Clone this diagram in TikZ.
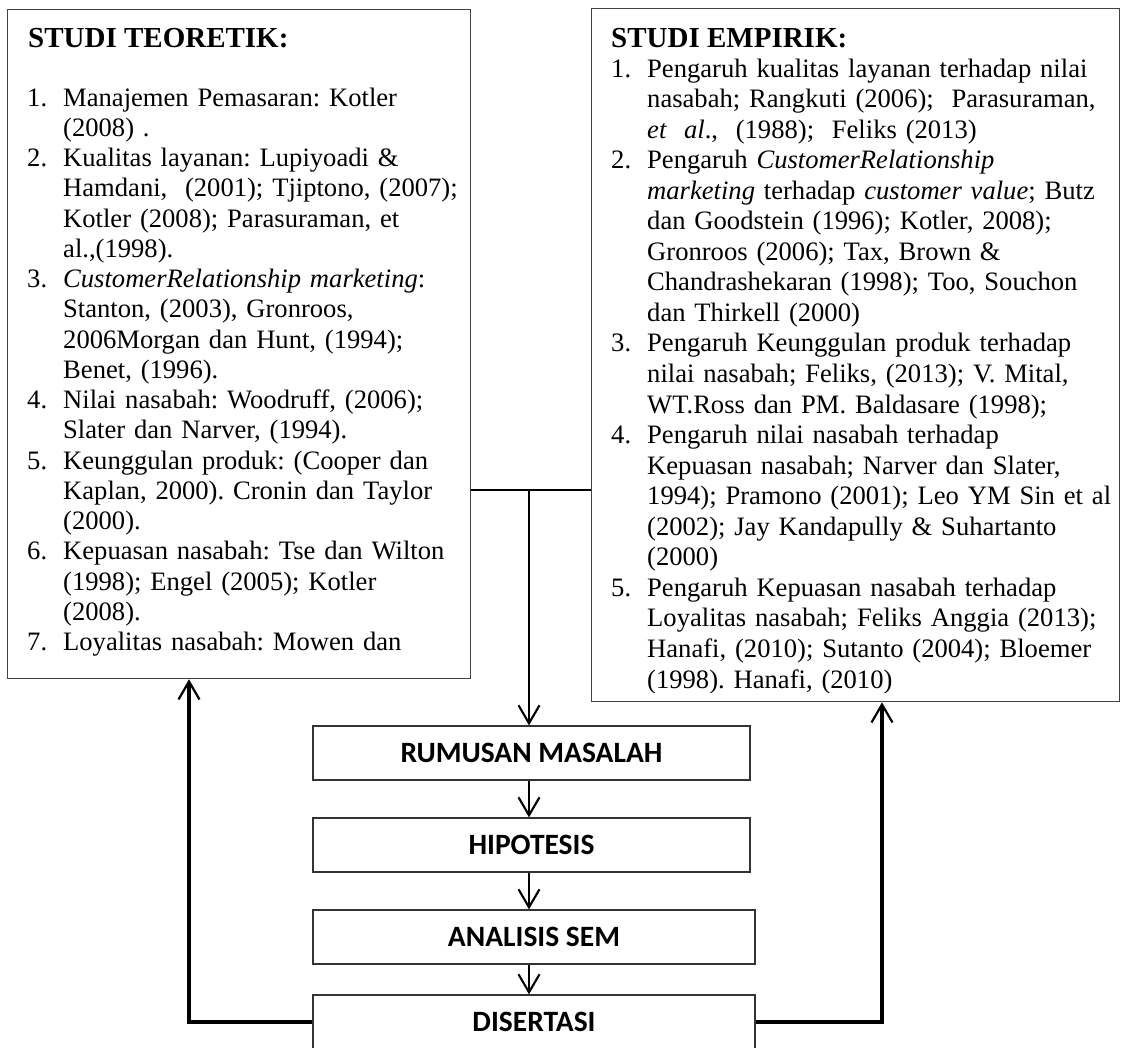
\documentclass[tikz,border=0pt]{standalone}
\usepackage{fontspec}
\setmainfont{Liberation Serif}
\newfontfamily\calib{Carlito}
\usetikzlibrary{arrows.meta}
\newcommand\lnum[1]{\makebox[36pt][l]{#1}}
\newcommand\lind{\hspace*{36pt}}
\frenchspacing
\begin{document}
\begin{tikzpicture}[x=1pt,y=-1pt,
  textbox/.style={draw=black!75, line width=1.3pt, inner sep=0pt, fill=white},
  flowbox/.style={draw=black!80, line width=1.3pt, inner sep=0pt, fill=white,
     font=\calib\bfseries\fontsize{29.5}{34}\selectfont},
  body/.style={inner sep=0pt, text width=560pt, align=left,
     font=\frenchspacing\fontsize{26.6}{30.25}\selectfont},
  ttl/.style={inner sep=0pt, font=\bfseries\fontsize{29}{34}\selectfont},
  arr/.style={line width=2.1pt, -{Straight Barb[length=18pt,width=21pt,line width=2.1pt]}},
  fb/.style={line width=3.2pt, -{Straight Barb[length=18pt,width=21pt,line width=2.2pt]}},
  link/.style={line width=2.6pt}]
\useasboundingbox (0,0) rectangle (1127,1047);
\fill[white] (0,0) rectangle (1127,1047);

% text boxes
\node[textbox, anchor=north west, minimum width=463pt, minimum height=669pt] (lbox) at (7,9) {};
\node[textbox, anchor=north west, minimum width=528pt, minimum height=693pt] (rbox) at (591,8) {};

\node[ttl, anchor=base west] (ltitle) at (28,47) {STUDI TEORETIK:};
\node[body, anchor=base west] (ltext) at (27,106) {%
\lnum{1.}Manajemen Pemasaran: Kotler\\
\lind(2008) .\\
\lnum{2.}Kualitas layanan: Lupiyoadi \&\\
\lind Hamdani,\ \ (2001); Tjiptono, (2007);\\
\lind Kotler (2008); Parasuraman, et\\
\lind al.,(1998).\\
\lnum{3.}\textit{CustomerRelationship marketing}:\\
\lind Stanton, (2003), Gronroos,\\
\lind 2006Morgan dan Hunt, (1994);\\
\lind Benet, (1996).\\
\lnum{4.}Nilai nasabah: Woodruff, (2006);\\
\lind Slater dan Narver, (1994).\\
\lnum{5.}Keunggulan produk: (Cooper dan\\
\lind Kaplan, 2000). Cronin dan Taylor\\
\lind(2000).\\
\lnum{6.}Kepuasan nasabah: Tse dan Wilton\\
\lind(1998); Engel (2005); Kotler\\
\lind(2008).\\
\lnum{7.}Loyalitas nasabah: Mowen dan}; 

\node[ttl, anchor=base west] (rtitle) at (611,47) {STUDI EMPIRIK:};
\begin{scope}
\clip (591,8) rectangle (1119,692);
\node[body, anchor=base west, font=\frenchspacing\fontsize{26.6}{30.55}\selectfont] (rtext) at (611,77) {%
\lnum{1.}Pengaruh kualitas layanan terhadap nilai\\
\lind nasabah; Rangkuti (2006);\ \ Parasuraman,\\
\lind\textit{et\ \ al}.,\ \ (1988);\ \ Feliks (2013)\\
\lnum{2.}Pengaruh \textit{CustomerRelationship}\\
\lind\textit{marketing} terhadap \textit{customer value}; Butz\\
\lind dan Goodstein (1996); Kotler, 2008);\\
\lind Gronroos (2006); Tax, Brown \&\\
\lind Chandrashekaran (1998); Too, Souchon\\
\lind dan Thirkell (2000)\\
\lnum{3.}Pengaruh Keunggulan produk terhadap\\
\lind nilai nasabah; Feliks, (2013); V. Mital,\\
\lind WT.Ross dan PM. Baldasare (1998);\\
\lnum{4.}Pengaruh nilai nasabah terhadap\\
\lind Kepuasan nasabah; Narver dan Slater,\\
\lind 1994); Pramono (2001); Leo YM Sin et al\\
\lind(2002); Jay Kandapully \& Suhartanto\\
\lind(2000)\\
\lnum{5.}Pengaruh Kepuasan nasabah terhadap\\
\lind Loyalitas nasabah; Feliks Anggia (2013);\\
\lind Hanafi, (2010); Sutanto (2004); Bloemer\\
\lind(1998). Hanafi, (2010)};
\end{scope}

% flow boxes
\node[flowbox, minimum width=437pt, minimum height=54pt] (rum) at (531.5,753) {RUMUSAN MASALAH};
\node[flowbox, minimum width=437pt, minimum height=54pt] (hip) at (531.5,845) {HIPOTESIS};
\node[flowbox, minimum width=442pt, minimum height=54pt] (ana) at (534,937) {ANALISIS SEM};
\node[flowbox, minimum width=442pt, minimum height=54pt] (dis) at (534,1022) {DISERTASI};

% connectors
\coordinate (j) at (529,490);
\coordinate (lf) at (189,678);
\coordinate (rf) at (882,701);
\draw[link] (lbox.east |- j) -- (rbox.west |- j);
\draw[arr] (j) -- (rum.north -| j);
\draw[arr] (rum.south -| j) -- (hip.north -| j);
\draw[arr] (hip.south -| j) -- (ana.north -| j);
\draw[arr] (ana.south -| j) -- (dis.north -| j);
\draw[fb] (dis.west) -| (lbox.south -| lf);
\draw[fb] (dis.east) -| (rbox.south -| rf);
\end{tikzpicture}
\end{document}
